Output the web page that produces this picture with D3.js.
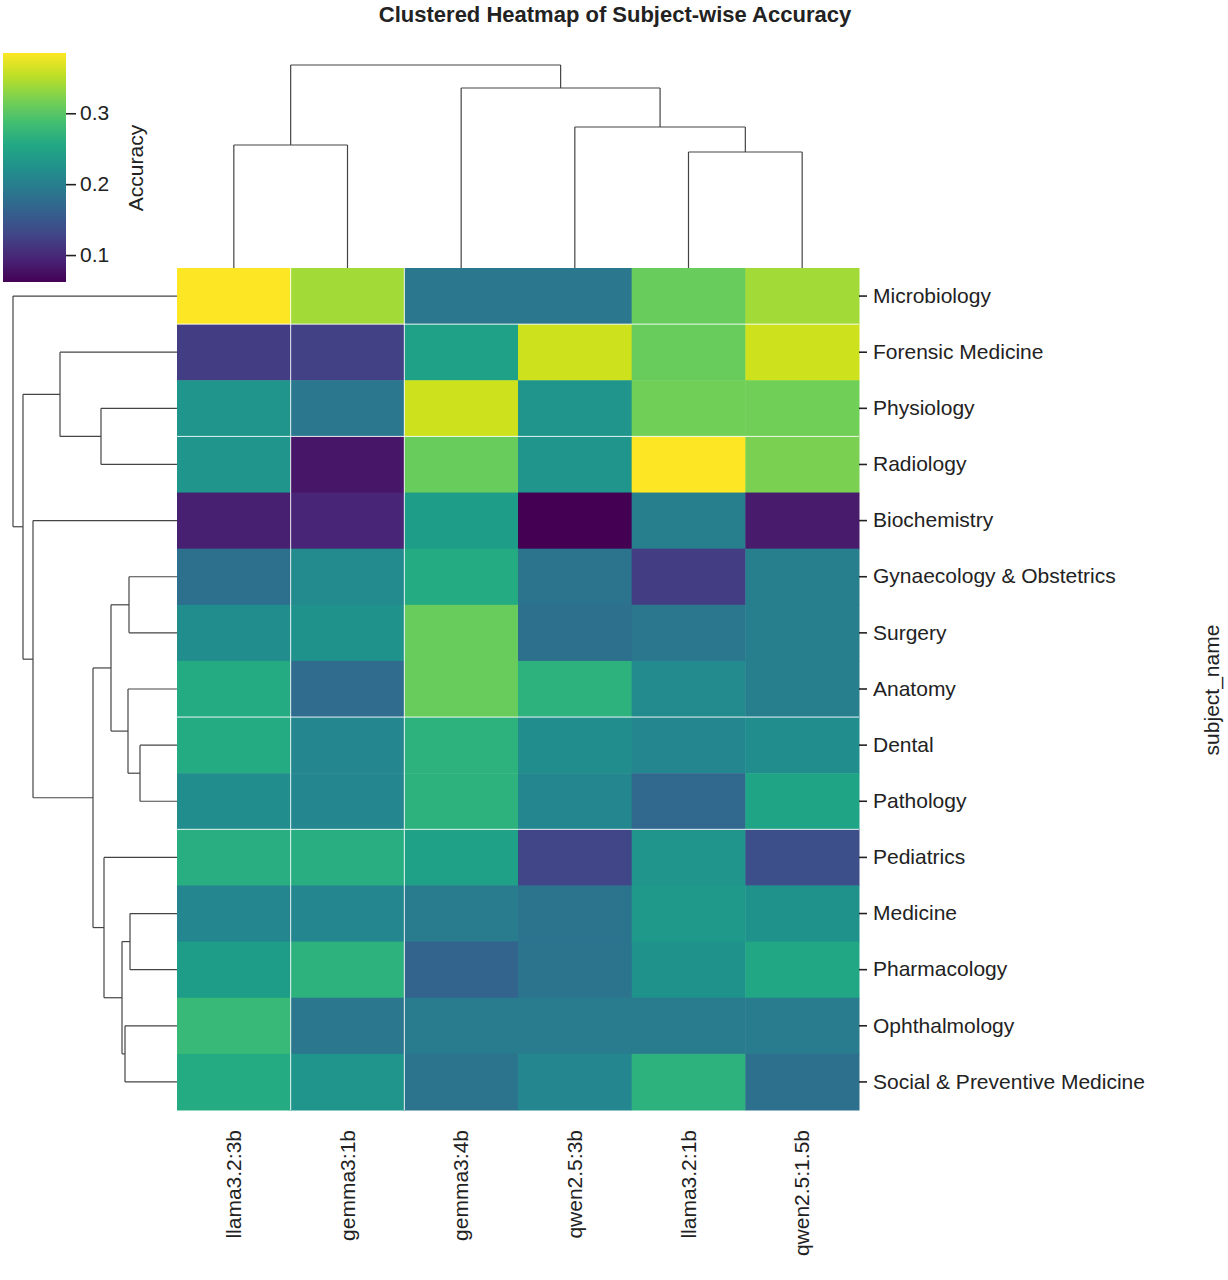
<!DOCTYPE html>
<html><head><meta charset="utf-8">
<script src="https://cdn.jsdelivr.net/npm/d3@7"></script>
<style>body{margin:0;background:#fff;font-family:"Liberation Sans",Arial,sans-serif}</style>
</head><body><div id="vis"></div>
<script>
const WIDTH = 1228, HEIGHT = 1280;

const models = ["llama3.2:3b", "gemma3:1b", "gemma3:4b", "qwen2.5:3b", "llama3.2:1b", "qwen2.5:1.5b"];
const subjects = ["Microbiology", "Forensic Medicine", "Physiology", "Radiology", "Biochemistry",
  "Gynaecology & Obstetrics", "Surgery", "Anatomy", "Dental", "Pathology", "Pediatrics",
  "Medicine", "Pharmacology", "Ophthalmology", "Social & Preventive Medicine"];
const accuracy = [
  [0.385, 0.34, 0.19, 0.19, 0.31, 0.34],
  [0.12, 0.125, 0.245, 0.36, 0.31, 0.36],
  [0.23, 0.19, 0.36, 0.23, 0.315, 0.315],
  [0.23, 0.08, 0.31, 0.23, 0.385, 0.32],
  [0.09, 0.095, 0.24, 0.062, 0.2, 0.085],
  [0.18, 0.215, 0.26, 0.185, 0.12, 0.2],
  [0.22, 0.225, 0.31, 0.18, 0.19, 0.2],
  [0.26, 0.175, 0.31, 0.27, 0.215, 0.2],
  [0.26, 0.21, 0.27, 0.22, 0.21, 0.22],
  [0.22, 0.21, 0.27, 0.21, 0.17, 0.25],
  [0.265, 0.265, 0.245, 0.13, 0.23, 0.14],
  [0.21, 0.21, 0.195, 0.185, 0.235, 0.225],
  [0.24, 0.27, 0.165, 0.185, 0.225, 0.255],
  [0.28, 0.19, 0.195, 0.195, 0.195, 0.195],
  [0.26, 0.23, 0.185, 0.21, 0.27, 0.18]
];
const colorTicks = [0.1, 0.2, 0.3];

// linkage trees: leaves are indices, h = merge height
const colTree = {h: 203, c: [
  {h: 123, c: [0, 1]},
  {h: 180, c: [2, {h: 141, c: [3, {h: 116, c: [4, 5]}]}]}
]};
const rowTree = {h: 164, c: [0,
  {h: 154, c: [
    {h: 117, c: [1, {h: 76, c: [2, 3]}]},
    {h: 144, c: [4,
      {h: 84, c: [
        {h: 66, c: [{h: 48, c: [5, 6]}, {h: 49, c: [7, {h: 37, c: [8, 9]}]}]},
        {h: 73, c: [10, {h: 55, c: [{h: 47, c: [11, 12]}, {h: 52, c: [13, 14]}]}]}
      ]}
    ]}
  ]}
]};

const hm = {left: 177, right: 859, top: 268, bottom: 1110};
const svg = d3.select("#vis").append("svg").attr("width", WIDTH).attr("height", HEIGHT);

const x = d3.scaleBand().domain(models).range([hm.left, hm.right]);
const y = d3.scaleBand().domain(subjects).range([hm.top, hm.bottom]);
const color = d3.scaleSequential(d3.interpolateViridis).domain([0.062, 0.385]);

// cells
subjects.forEach((s, i) => {
  svg.append("g").selectAll("rect").data(accuracy[i]).enter().append("rect")
    .attr("x", (d, j) => x(models[j]))
    .attr("y", y(s))
    .attr("width", x.bandwidth() + 0.5)
    .attr("height", y.bandwidth() + 0.5)
    .attr("fill", d => color(d));
});

// faint white seams
[1, 2].forEach(j => svg.append("line").attr("x1", x(models[j])).attr("x2", x(models[j]))
  .attr("y1", hm.top).attr("y2", hm.bottom).attr("stroke", "#fff").attr("stroke-width", 0.9));
[1, 3, 8, 10].forEach(i => svg.append("line").attr("y1", y(subjects[i])).attr("y2", y(subjects[i]))
  .attr("x1", hm.left).attr("x2", hm.right).attr("stroke", "#fff").attr("stroke-width", 0.9));

// row axis
const rowAxis = svg.append("g").attr("transform", `translate(${hm.right},0)`)
  .call(d3.axisRight(y).tickSize(8).tickPadding(6));
rowAxis.select(".domain").remove();
rowAxis.selectAll("line").attr("stroke", "#222").attr("stroke-width", 1.6);
rowAxis.selectAll("text").attr("font-size", 21).attr("fill", "#222")
  .attr("font-family", "Liberation Sans, Arial, sans-serif");

// column labels
svg.append("g").selectAll("text").data(models).enter().append("text")
  .attr("transform", d => `translate(${x(d) + x.bandwidth() / 2 + 7},1130) rotate(-90)`)
  .attr("text-anchor", "end").attr("font-size", 21).attr("fill", "#222").text(d => d);

svg.append("text").attr("transform", "translate(1219,690) rotate(-90)")
  .attr("text-anchor", "middle").attr("font-size", 21).attr("fill", "#222").text("subject_name");

svg.append("text").attr("x", 615).attr("y", 22).attr("text-anchor", "middle")
  .attr("font-size", 22).attr("font-weight", "bold").attr("fill", "#222")
  .text("Clustered Heatmap of Subject-wise Accuracy");

// dendrograms
function drawTree(node, pos, hScale, horizontal, g) {
  if (typeof node === "number") return {p: pos(node), h: 0};
  const kids = node.c.map(k => drawTree(k, pos, hScale, horizontal, g));
  const hp = hScale(node.h);
  kids.forEach(k => {
    const kh = hScale(k.h);
    if (horizontal) g.append("path").attr("d", `M${kh},${k.p}H${hp}`);
    else g.append("path").attr("d", `M${k.p},${kh}V${hp}`);
  });
  if (horizontal) g.append("path").attr("d", `M${hp},${kids[0].p}V${kids[1].p}`);
  else g.append("path").attr("d", `M${kids[0].p},${hp}H${kids[1].p}`);
  return {p: (kids[0].p + kids[1].p) / 2, h: node.h};
}
const dg = svg.append("g").attr("fill", "none").attr("stroke", "#444").attr("stroke-width", 1.2);
drawTree(colTree, i => x(models[i]) + x.bandwidth() / 2,
  d3.scaleLinear().domain([0, 203]).range([hm.top, 65]), false, dg);
drawTree(rowTree, i => y(subjects[i]) + y.bandwidth() / 2,
  d3.scaleLinear().domain([0, 164]).range([hm.left, 13]), true, dg);

// colorbar
const cb = {x: 3, w: 63, top: 53, bottom: 282};
const defs = svg.append("defs");
const grad = defs.append("linearGradient").attr("id", "vir").attr("x1", 0).attr("y1", 1).attr("x2", 0).attr("y2", 0);
d3.range(0, 1.001, 0.1).forEach(t => grad.append("stop").attr("offset", t).attr("stop-color", d3.interpolateViridis(t)));
svg.append("rect").attr("x", cb.x).attr("y", cb.top).attr("width", cb.w).attr("height", cb.bottom - cb.top)
  .attr("fill", "url(#vir)");
const cbScale = d3.scaleLinear().domain(color.domain()).range([cb.bottom, cb.top]);
const cbAxis = svg.append("g").attr("transform", `translate(${cb.x + cb.w},0)`)
  .call(d3.axisRight(cbScale).tickValues(colorTicks).tickSize(10).tickPadding(4).tickFormat(d3.format(".1f")));
cbAxis.select(".domain").remove();
cbAxis.selectAll("line").attr("stroke", "#222").attr("stroke-width", 1.6);
cbAxis.selectAll("text").attr("font-size", 21).attr("fill", "#222")
  .attr("font-family", "Liberation Sans, Arial, sans-serif");
svg.append("text").attr("transform", "translate(143,168) rotate(-90)").attr("text-anchor", "middle")
  .attr("font-size", 21).attr("fill", "#222").text("Accuracy");
</script></body></html>
